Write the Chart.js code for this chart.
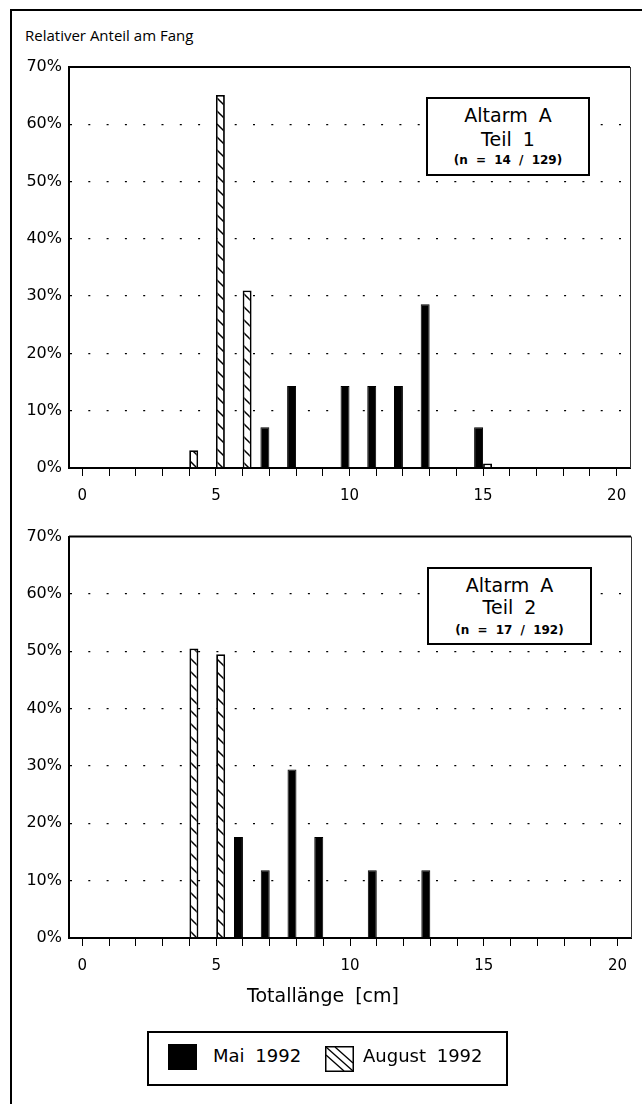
<!DOCTYPE html>
<html>
<head>
<meta charset="utf-8">
<script src="https://cdn.jsdelivr.net/npm/chart.js@4/dist/chart.umd.min.js"></script>
<style>
  body { margin: 0; background: #fff; }
  #page { position: relative; width: 642px; height: 1104px; overflow: hidden; font-family: "DejaVu Sans", sans-serif; color: #000; }
  .frame { position: absolute; left: 10px; top: 9px; width: 700px; height: 1200px; border-left: 2px solid #000; border-top: 2px solid #000; }
  .wrap { position: absolute; left: 0; width: 642px; height: 470px; }
  .txt { position: absolute; white-space: nowrap; height: 24px; line-height: 24px; word-spacing: 5px; }
  .note { position: absolute; border: 2px solid #000; background: #fff; box-sizing: border-box; }
  .note .txt { left: 0; right: 0; text-align: center; }
  .legend { position: absolute; left: 147px; top: 1031px; width: 361px; height: 55px; border: 2px solid #000; box-sizing: border-box; }
</style>
</head>
<body>
<div id="page">
  <div class="frame"></div>
  <div class="txt" style="left:25px; top:23px; font-family:'Open Sans',sans-serif; font-size:15px; word-spacing:0;">Relativer Anteil am Fang</div>

  <div class="wrap" style="top:50px"><canvas id="chart1" width="642" height="470"></canvas></div>
  <div class="wrap" style="top:520px"><canvas id="chart2" width="642" height="470"></canvas></div>

  <div class="note" style="left:426px; top:97px; width:164px; height:79px;">
    <div class="txt" style="top:4px; font-size:19px;">Altarm A</div>
    <div class="txt" style="top:28px; font-size:19px;">Teil 1</div>
    <div class="txt" style="top:49px; font-size:12px; font-weight:bold; word-spacing:4px;">(n = 14 / 129)</div>
  </div>
  <div class="note" style="left:427px; top:567px; width:165px; height:78px;">
    <div class="txt" style="top:4px; font-size:19px;">Altarm A</div>
    <div class="txt" style="top:26px; font-size:19px;">Teil 2</div>
    <div class="txt" style="top:49px; font-size:12px; font-weight:bold; word-spacing:4px;">(n = 17 / 192)</div>
  </div>

  <div class="txt" style="left:323px; top:983px; transform:translateX(-50%); font-size:19px;">Totallänge [cm]</div>

  <div class="legend"></div>
  <div style="position:absolute; left:168px; top:1044px; width:29px; height:26px; background:#000;"></div>
  <div class="txt" style="left:213px; top:1044px; font-size:18px;">Mai 1992</div>
  <svg style="position:absolute; left:325px; top:1046px;" width="29" height="26" viewBox="0 0 29 26">
    <rect x="0.75" y="0.75" width="27.5" height="24.5" fill="#fff" stroke="#000" stroke-width="1.5"/>
    <line x1="1" y1="1" x2="28" y2="25" stroke="#000" stroke-width="1.3"/>
    <line x1="10" y1="1" x2="28" y2="17" stroke="#000" stroke-width="1.3"/>
    <line x1="1" y1="9" x2="19" y2="25" stroke="#000" stroke-width="1.3"/>
  </svg>
  <div class="txt" style="left:363px; top:1044px; font-size:18px;">August 1992</div>
</div>

<script>
// Totallänge in cm (Kategorien)
const lengths = [0, 1, 2, 3, 4, 5, 6, 7, 8, 9, 10, 11, 12, 13, 14, 15, 16, 17, 18, 19, 20];

// Teil 1: relativer Anteil am Fang in %
const mai1 = [0, 0, 0, 0, 0, 0, 0, 7.1, 14.3, 0, 14.3, 14.3, 14.3, 28.6, 0, 7.1, 0, 0, 0, 0, 0];
const aug1 = [0, 0, 0, 0, 3.1, 65.1, 31.0, 0, 0, 0, 0, 0, 0, 0, 0, 0.8, 0, 0, 0, 0, 0];

// Teil 2
const mai2 = [0, 0, 0, 0, 0, 0, 17.6, 11.8, 29.4, 17.6, 0, 11.8, 0, 11.8, 0, 0, 0, 0, 0, 0, 0];
const aug2 = [0, 0, 0, 0, 50.5, 49.5, 0, 0, 0, 0, 0, 0, 0, 0, 0, 0, 0, 0, 0, 0, 0];

const yTicks = [0, 10, 20, 30, 40, 50, 60, 70];
const xLabelEvery = 5;

Chart.defaults.font.family = "DejaVu Sans";
Chart.defaults.color = "#000";

function hatchPattern() {
  const n = 13;
  const c = document.createElement("canvas");
  c.width = n;
  c.height = n;
  const g = c.getContext("2d");
  g.fillStyle = "#fff";
  g.fillRect(0, 0, n, n);
  g.strokeStyle = "#000";
  g.lineWidth = 1.5;
  g.beginPath();
  g.moveTo(-1, -1); g.lineTo(n + 1, n + 1);
  g.moveTo(-1, n - 1); g.lineTo(1, n + 1);
  g.moveTo(n - 1, -1); g.lineTo(n + 1, 1);
  g.stroke();
  return g.createPattern(c, "repeat");
}

// top and right edge of the plot box
const plotBox = {
  id: "plotBox",
  afterDraw(chart) {
    const { ctx, chartArea: a } = chart;
    ctx.save();
    ctx.strokeStyle = "#000";
    ctx.lineWidth = 2;
    ctx.beginPath();
    ctx.moveTo(a.left, a.top);
    ctx.lineTo(a.right, a.top);
    ctx.stroke();
    ctx.strokeStyle = "#333";
    ctx.lineWidth = 1;
    ctx.beginPath();
    ctx.moveTo(a.right + 0.5, a.top);
    ctx.lineTo(a.right + 0.5, a.bottom);
    ctx.stroke();
    ctx.restore();
  }
};

function createChart(id, mai, aug, padTop, padRight) {
  const hatch = hatchPattern();
  return new Chart(document.getElementById(id), {
    type: "bar",
    data: {
      labels: lengths,
      datasets: [
        {
          label: "Mai 1992",
          data: mai.map(v => v || null),
          backgroundColor: "#000",
          borderColor: "#000",
          borderWidth: 1,
          categoryPercentage: 0.67,
          barPercentage: 1,
        },
        {
          label: "August 1992",
          data: aug.map(v => v || null),
          backgroundColor: hatch,
          borderColor: "#000",
          borderWidth: 1.8,
          categoryPercentage: 0.67,
          barPercentage: 1,
        },
      ],
    },
    options: {
      responsive: false,
      animation: false,
      devicePixelRatio: 1,
      layout: { padding: { top: padTop, right: padRight, bottom: 12, left: 0 } },
      plugins: { legend: { display: false }, tooltip: { enabled: false } },
      scales: {
        x: {
          offset: true,
          ticks: {
            autoSkip: false,
            maxRotation: 0,
            padding: 11,
            font: { size: 15 },
            callback(v) {
              const l = this.getLabelForValue(v);
              return l % xLabelEvery === 0 ? String(l) : "";
            },
          },
          grid: { offset: false, drawOnChartArea: false, tickLength: 8, tickColor: "#000", tickWidth: 1 },
          border: { color: "#000", width: 2 },
          afterFit: s => { s.height = 40; },
        },
        y: {
          min: yTicks[0],
          max: yTicks[yTicks.length - 1],
          afterBuildTicks: s => { s.ticks = yTicks.map(v => ({ value: v })); },
          ticks: { padding: 7, font: { size: 16 }, callback: v => v + "%" },
          grid: {
            drawTicks: false,
            lineWidth: 1.3,
            color: c => (c.tick && c.tick.value > 0 && c.tick.value < 70) ? "#000" : "rgba(0,0,0,0)",
          },
          border: { color: "#000", width: 2, dash: [2, 16.3] },
          afterFit: s => { s.width = 69; },
        },
      },
    },
    plugins: [plotBox],
  });
}

createChart("chart1", mai1, aug1, 17, 12);
createChart("chart2", mai2, aug2, 16, 11);
</script>
</body>
</html>
